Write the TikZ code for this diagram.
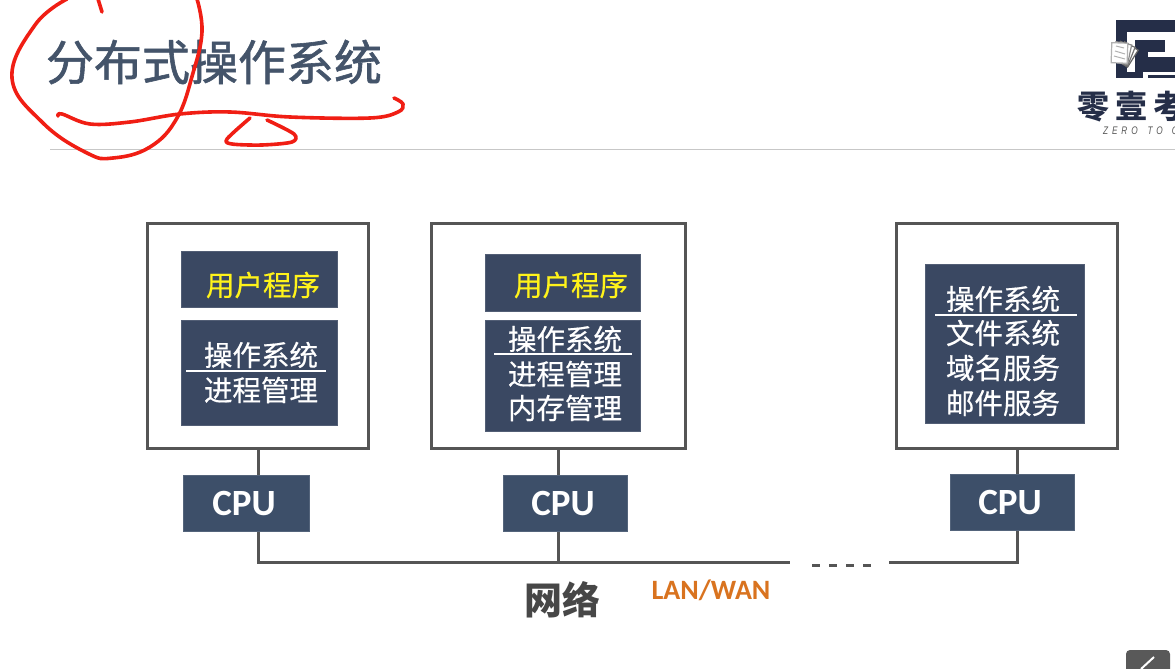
\documentclass[tikz,border=0pt]{standalone}
\usepackage{fontspec}
\usepackage{xcolor}
\setmainfont{Noto Sans CJK SC}
\newfontfamily\headfont[FakeBold=1.2]{Noto Sans CJK SC}
\newfontfamily\boxfont[FakeBold=0.5]{Noto Sans CJK SC}
\newfontfamily\latinfont{Carlito}
\newfontfamily\tagfont[LetterSpace=35,FakeStretch=0.75]{Liberation Sans}
\usetikzlibrary{positioning}
\definecolor{slatefill}{HTML}{3A4862}
\definecolor{cpufill}{HTML}{3D4F69}
\definecolor{wirecolor}{HTML}{555555}
\definecolor{titlecolor}{HTML}{44546A}
\definecolor{logocolor}{HTML}{252E48}
\definecolor{inkred}{HTML}{F01E14}
\definecolor{laborange}{HTML}{D9731F}
\tikzset{
  sysbox/.style={draw=wirecolor, line width=3pt, fill=white, inner sep=0pt},
  darkbox/.style={fill=slatefill, draw=slatefill!88!white, line width=0.5pt, inner sep=0pt},
  cpubox/.style={fill=cpufill, draw=cpufill!88!white, line width=0.5pt, inner sep=0pt, minimum height=56pt},
  cpulabel/.style={text=white, inner sep=0pt, font=\latinfont\bfseries\fontsize{37}{37}\selectfont},
  proglabel/.style={text=yellow!90!white, inner sep=0pt, font=\boxfont\fontsize{28.5}{29}\selectfont},
  oslabel/.style={text=white, inner sep=0pt, font=\boxfont\fontsize{28.5}{29}\selectfont},
  wire/.style={draw=wirecolor, line width=3pt},
  sepline/.style={draw=white, line width=2.5pt},
  inkstroke/.style={draw=inkred, line width=3.6pt, line cap=round, line join=round}
}
\begin{document}
\begin{tikzpicture}[x=1pt,y=-1pt]
  \clip (0,0) rectangle (1175,669);
  \fill[white] (0,0) rectangle (1175,669);
  % header
  \node[inner sep=0pt, text=titlecolor, font=\headfont\fontsize{48}{48}\selectfont] (title) at (214,62) {分布式操作系统};
  \coordinate (rulea) at (50,149.5);
  \coordinate (ruleb) at (1175,149.5);
  \draw[black!22, line width=1.2pt] (rulea) -- (ruleb);
  % logo
  \fill[logocolor] (1116,20) rectangle (1175,78);
  \fill[white] (1127,32) rectangle (1175,75);
  \fill[logocolor] (1135,40) rectangle (1165,52);
  \fill[logocolor] (1135,52) rectangle (1148,72);
  \fill[logocolor] (1148,57) rectangle (1175,72);
  \fill[logocolor] (1116,72) rectangle (1143,78);
  \fill[logocolor] (1148,75) rectangle (1175,78);
  \fill[white] (1143,75) rectangle (1148,78);
  \foreach \tilt/\tiltgray in {-32/60,-22/55,-12/45,-2/30}
    \draw[black!\tiltgray, fill=white, line width=1.2pt, rotate around={\tilt:(1120,66)}] (1111,43) rectangle (1127,63);
  \draw[black!30, line width=1pt] (1116,46) -- (1124,48) (1115,51) -- (1125,54) (1114,56) -- (1125,59);
  \node[anchor=west, inner sep=0pt, text=logocolor, font=\bfseries\fontsize{32}{32}\selectfont] (logoname) at (1077,107) {零\hspace{6pt}壹\hspace{6pt}考};
  \node[anchor=west, inner sep=0pt, text=black!65, font=\tagfont\itshape\fontsize{11}{11}\selectfont] (logotag) at (1103,131) {ZERO\hspace{10pt}TO\hspace{9pt}O};
  % machines
  \node[sysbox, minimum width=220.5pt, minimum height=225pt] (hosta) at (258,335.5) {};
  \node[sysbox, minimum width=253.5pt, minimum height=225pt] (hostb) at (558.5,335.5) {};
  \node[sysbox, minimum width=220.5pt, minimum height=225pt] (hostc) at (1007,335.5) {};
  % network
  \coordinate (busa) at (258,562);
  \coordinate (busb) at (558.5,562);
  \coordinate (busc) at (1017,562);
  \coordinate (gapl) at (790,562);
  \coordinate (gapr) at (889,562);
  \coordinate (dotl) at (812,565);
  \coordinate (dotr) at (873,565);
  \coordinate (hostcdrop) at (1017,448);
  \draw[wire] (hosta.south) -- (busa) -- (gapl);
  \draw[wire] (hostb.south) -- (busb);
  \draw[wire] (hostcdrop) -- (busc) -- (gapr);
  \draw[wire, dash pattern=on 8pt off 9pt] (dotl) -- (dotr);
  \node[cpubox, minimum width=126pt] (cpua) at (246,503) {};
  \node[cpubox, minimum width=124pt] (cpub) at (565,503) {};
  \node[cpubox, minimum width=124pt] (cpuc) at (1012,502) {};
  \node[cpulabel] (cpualabel) at (244,503) {CPU};
  \node[cpulabel] (cpublabel) at (563,503) {CPU};
  \node[cpulabel] (cpuclabel) at (1010,502) {CPU};
  \node[inner sep=0pt, text=black!72, font=\bfseries\fontsize{38}{38}\selectfont] (netlabel) at (562,600) {网络};
  \node[inner sep=0pt, text=laborange, font=\latinfont\bfseries\fontsize{28}{28}\selectfont] (lanlabel) at (711,590) {LAN/WAN};
  % first machine
  \node[darkbox, minimum width=156pt, minimum height=56pt] (proga) at (259,279) {};
  \node[proglabel] at (263,285) {用户程序};
  \node[darkbox, minimum width=156pt, minimum height=105pt] (osa) at (259,372.5) {};
  \node[oslabel] (osatitle) at (261,355) {操作系统};
  \node[oslabel] at (261,390) {进程管理};
  \coordinate (sepal) at (186,371);
  \coordinate (separ) at (326,371);
  \draw[sepline] (sepal) -- (separ);
  % second machine
  \node[darkbox, minimum width=155pt, minimum height=57pt] (progb) at (562.5,282.5) {};
  \node[proglabel] at (571,285) {用户程序};
  \node[darkbox, minimum width=155pt, minimum height=111pt] (osb) at (562.5,375.5) {};
  \node[oslabel] (osbtitle) at (565,339) {操作系统};
  \node[oslabel] at (565,374) {进程管理};
  \node[oslabel] at (565,408) {内存管理};
  \coordinate (sepbl) at (494,354);
  \coordinate (sepbr) at (632,354);
  \draw[sepline] (sepbl) -- (sepbr);
  % third machine
  \node[darkbox, minimum width=159pt, minimum height=159pt] (osc) at (1004.5,343.5) {};
  \node[oslabel] (osctitle) at (1003,299) {操作系统};
  \node[oslabel] at (1003,333) {文件系统};
  \node[oslabel] at (1003,368) {域名服务};
  \node[oslabel] at (1003,403) {邮件服务};
  \coordinate (sepcl) at (935,315);
  \coordinate (sepcr) at (1077,315);
  \draw[sepline] (sepcl) -- (sepcr);
  % pen marks
  \draw[inkstroke] plot[smooth, tension=0.7] coordinates {(67,-1) (35,25) (12,78) (43,123) (87,153) (113,158) (150,147) (177,118) (193,73) (202,32) (197,-1)};
  \draw[inkstroke] (98,-1) -- (102,12);
  \draw[inkstroke] plot[smooth, tension=0.6] coordinates {(58,116) (62,114) (90,124) (130,122) (180,114) (230,112) (290,117) (370,118) (398,112) (403,104) (394,98)};
  \draw[inkstroke] plot[smooth, tension=0.5] coordinates {(250,118) (227,139) (232,144) (262,145) (292,142) (294,134) (267,120)};
  % video button
  \fill[black!65, rounded corners=4pt] (1126,650) rectangle (1170,680);
  \draw[white, line width=2pt] (1141,669) -- (1154,657);
\end{tikzpicture}
\end{document}
